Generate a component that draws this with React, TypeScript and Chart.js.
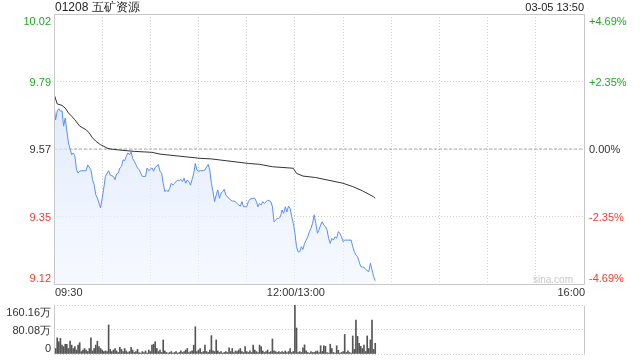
import React, { useEffect, useRef } from "react";
import { Chart, registerables } from "chart.js";

Chart.register(...registerables);

// ---------- data ----------
const stockTitle = "01208 五矿资源";
const stampText = "03-05 13:50";
const watermark = "sina.com";
const prevClose = 9.57;
const priceMin = 9.121;
const priceMax = 10.019;
const volMax = 160.16;
const totalMinutes = 330;
const gridMinutes = [0, 30, 60, 90, 120, 150, 180, 210, 240, 270, 300, 330];
const priceTickLabels = ["10.02", "9.79", "9.57", "9.35", "9.12"];
const pctTickLabels = ["+4.69%", "+2.35%", "0.00%", "-2.35%", "-4.69%"];
const volTickLabels = ["160.16万", "80.08万", "0"];
const timeLabels = ["09:30", "12:00/13:00", "16:00"];
const timeLabelMinutes = [0, 150, 330];

const priceMinutes = [
  0, 1, 2, 3, 4, 5, 6, 7, 8, 9, 11, 12, 13, 14, 15, 16, 20, 21, 23, 24, 25, 26, 27, 28, 29, 30,
  31, 32, 34, 35, 37, 38, 39, 40, 41, 42, 43, 44, 45, 46, 47, 48, 49, 50, 51, 52, 53, 55, 57, 58,
  59, 61, 62, 63, 65, 66, 67, 68, 69, 70, 71, 72, 73, 74, 75, 77, 78, 79, 80, 81, 82, 83, 84, 85,
  86, 87, 88, 89, 90, 91, 93, 94, 95, 96, 97, 98, 99, 100, 101, 102, 103, 104, 105, 106, 107, 108,
  110, 111, 112, 113, 114, 115, 116, 117, 118, 119, 120, 121, 122, 124, 125, 126, 127, 128, 129,
  130, 131, 133, 134, 135, 136, 137, 138, 139, 140, 141, 142, 143, 144, 145, 146, 147, 148, 149,
  150, 151, 152, 153, 154, 155, 156, 157, 158, 159, 160, 161, 162, 163, 164, 165, 166, 167, 168,
  169, 170, 171, 172, 173, 174, 175, 176, 177, 178, 179, 180, 181, 183, 185, 186, 187, 188, 189,
  190, 191, 192, 193, 194, 196, 197, 198, 199, 200,
];
const priceValues = [
  9.717, 9.667, 9.696, 9.704, 9.696, 9.697, 9.646, 9.673, 9.63, 9.59, 9.551, 9.557, 9.547, 9.501,
  9.49, 9.497, 9.498, 9.517, 9.501, 9.468, 9.451, 9.418, 9.407, 9.39, 9.374, 9.407,
  9.44, 9.479, 9.498, 9.483, 9.479, 9.468, 9.487, 9.49, 9.507, 9.512, 9.534, 9.531, 9.546, 9.557,
  9.551, 9.56, 9.538, 9.529, 9.518, 9.507, 9.501, 9.479, 9.479, 9.507,
  9.498, 9.507, 9.496, 9.509, 9.518, 9.496, 9.489, 9.456, 9.428, 9.434, 9.428, 9.439, 9.456, 9.45,
  9.456, 9.467, 9.465, 9.469, 9.461, 9.473, 9.456, 9.467, 9.461, 9.45,
  9.469, 9.489, 9.522, 9.5, 9.495, 9.498, 9.498, 9.5, 9.511, 9.519, 9.5, 9.456, 9.428, 9.395,
  9.417, 9.434, 9.406, 9.423, 9.428, 9.436, 9.417, 9.411,
  9.4, 9.397, 9.397, 9.394, 9.389, 9.384, 9.38, 9.395, 9.378, 9.378, 9.378, 9.395, 9.403, 9.406,
  9.406, 9.395, 9.378, 9.389, 9.384,
  9.395, 9.389, 9.4, 9.398, 9.395, 9.378, 9.328, 9.334, 9.339, 9.339, 9.345, 9.367, 9.356, 9.378,
  9.361, 9.38, 9.373, 9.345, 9.323,
  9.29, 9.245, 9.228, 9.228, 9.245, 9.236, 9.256, 9.267, 9.278, 9.295, 9.306, 9.323, 9.351, 9.323,
  9.29, 9.301, 9.317, 9.328, 9.317,
  9.312, 9.301, 9.273, 9.256, 9.273, 9.267, 9.278, 9.273, 9.295, 9.29, 9.278, 9.262, 9.267, 9.267,
  9.267, 9.245, 9.228, 9.217, 9.212,
  9.195, 9.179, 9.177, 9.177, 9.17, 9.162, 9.19, 9.168, 9.146, 9.132,
];

const avgMinutes = [
  0, 2, 5, 7, 9, 11, 13, 16, 18, 20, 22, 24, 26, 29, 31, 33, 35, 40, 50, 61, 66, 91, 98, 121, 128,
  136, 149, 151, 155, 163, 180, 186, 192, 199, 200,
];
const avgValues = [
  9.753, 9.72, 9.715, 9.706, 9.69, 9.679, 9.667, 9.646, 9.64, 9.634, 9.623, 9.607, 9.596, 9.584,
  9.579, 9.573, 9.57, 9.567, 9.562, 9.559, 9.553, 9.539, 9.537, 9.522, 9.519, 9.511, 9.506, 9.489,
  9.48, 9.475, 9.456, 9.445, 9.431, 9.411, 9.406,
];

// volume per minute (万), minute 0 .. 200
const volumes = [
  114, 18, 53, 40, 51, 29, 24, 32, 32, 18, 42, 29, 18, 24, 13, 29, 37, 8, 13, 18,
  13, 8, 18, 53, 10, 18, 29, 42, 24, 18, 13, 8, 10, 8, 95, 15, 8, 13, 18, 10,
  5, 22, 15, 8, 18, 10, 5, 8, 22, 13, 5, 8, 15, 5, 3, 8, 5, 10, 3, 13,
  8, 29, 32, 40, 18, 8, 13, 5, 46, 10, 5, 3, 5, 8, 3, 5, 8, 3, 5, 10,
  5, 8, 13, 18, 5, 8, 10, 29, 89, 8, 13, 18, 5, 8, 29, 8, 5, 13, 60, 10,
  8, 46, 10, 5, 8, 3, 5, 8, 5, 20, 8, 18, 5, 10, 8, 13, 18, 8, 5, 24,
  8, 5, 10, 5, 29, 13, 8, 5, 29, 24, 10, 5, 8, 13, 5, 8, 49, 10, 8, 5,
  8, 5, 8, 5, 10, 5, 8, 18, 5, 8, 160.16, 85, 5, 8, 5, 20, 30, 10, 5, 3,
  8, 5, 5, 8, 10, 5, 27, 8, 27, 25, 5, 3, 32, 18, 5, 3, 27, 12, 3, 5,
  8, 64, 5, 10, 5, 3, 59, 15, 111, 58, 35, 25, 18, 29, 8, 59, 18, 46, 111, 15,
  35,
];

// ---------- styles ----------
const FONT = "'Liberation Sans', Arial, sans-serif";
const UP = "#22a722";
const DOWN = "#ee3b2f";
const FLAT = "#333333";
const FRAME = "#c8c8c8";
const GRID = "#cfcfcf";
const priceLabelColors = [UP, UP, FLAT, DOWN, DOWN];

const priceTickValues = [0, 1, 2, 3, 4].map((k) => priceMax - (k * (priceMax - priceMin)) / 4);
const volTickValues = [volMax, volMax / 2, 0];

function drawFrame(ctx: CanvasRenderingContext2D, a: any, sides: string[]) {
  ctx.save();
  ctx.strokeStyle = FRAME;
  ctx.lineWidth = 1;
  ctx.beginPath();
  const l = Math.round(a.left) + 0.5;
  const r = Math.round(a.right) + 0.5;
  const t = Math.round(a.top) + 0.5;
  const b = Math.round(a.bottom) + 0.5;
  if (sides.includes("l")) { ctx.moveTo(l, t); ctx.lineTo(l, b); }
  if (sides.includes("r")) { ctx.moveTo(r, t); ctx.lineTo(r, b); }
  if (sides.includes("t")) { ctx.moveTo(l, t); ctx.lineTo(r, t); }
  if (sides.includes("b")) { ctx.moveTo(l, b); ctx.lineTo(r, b); }
  ctx.stroke();
  ctx.restore();
}

function drawLabelAt(ctx: CanvasRenderingContext2D, text: string, x: number, tickY: number, idx: number, last: number, align: CanvasTextAlign) {
  ctx.textAlign = align;
  if (idx === 0) {
    ctx.textBaseline = "alphabetic";
    ctx.fillText(text, x, tickY + 11);
  } else if (idx === last) {
    ctx.textBaseline = "alphabetic";
    ctx.fillText(text, x, tickY - 2);
  } else {
    ctx.textBaseline = "middle";
    ctx.fillText(text, x, tickY + 1);
  }
}

const pricePlugin = {
  id: "priceDecor",
  afterDraw(chart: any) {
    const { ctx, chartArea } = chart;
    const y = chart.scales.y;
    const x = chart.scales.x;
    drawFrame(ctx, chartArea, ["l", "r", "t", "b"]);
    ctx.save();
    ctx.font = `11px ${FONT}`;
    priceTickValues.forEach((v, i) => {
      const py = y.getPixelForValue(v);
      ctx.fillStyle = priceLabelColors[i];
      drawLabelAt(ctx, priceTickLabels[i], chartArea.left - 3, py, i, priceTickValues.length - 1, "right");
      drawLabelAt(ctx, pctTickLabels[i], chartArea.right + 5, py, i, priceTickValues.length - 1, "left");
    });
    // time labels
    ctx.fillStyle = "#333";
    ctx.textBaseline = "middle";
    timeLabels.forEach((t, i) => {
      const m = timeLabelMinutes[i];
      const px = x.getPixelForValue(m);
      ctx.textAlign = m === 0 ? "left" : m === totalMinutes ? "right" : "center";
      ctx.fillText(t, m === 0 ? px + 1 : px + 1, chartArea.bottom + 9);
    });
    // header
    ctx.font = `12px ${FONT}`;
    ctx.textAlign = "left";
    ctx.textBaseline = "middle";
    ctx.fillStyle = "#222";
    ctx.fillText(stockTitle, chartArea.left + 1, 8);
    ctx.font = `11px ${FONT}`;
    ctx.textAlign = "right";
    ctx.fillText(stampText, chartArea.right, 8);
    // watermark
    ctx.font = `10px ${FONT}`;
    ctx.fillStyle = "#c8c8c8";
    ctx.textAlign = "right";
    ctx.textBaseline = "alphabetic";
    ctx.fillText(watermark, chartArea.right - 11, chartArea.bottom - 1);
    ctx.restore();
  },
};

const volPlugin = {
  id: "volDecor",
  afterDraw(chart: any) {
    const { ctx, chartArea } = chart;
    const y = chart.scales.y;
    drawFrame(ctx, chartArea, ["l", "r"]);
    ctx.save();
    ctx.font = `11px ${FONT}`;
    ctx.fillStyle = "#333";
    volTickValues.forEach((v, i) => {
      const py = y.getPixelForValue(v);
      drawLabelAt(ctx, volTickLabels[i], chartArea.left - 3, py, i, volTickValues.length - 1, "right");
    });
    ctx.restore();
  },
};

export default function App() {
  const priceRef = useRef<HTMLCanvasElement | null>(null);
  const volRef = useRef<HTMLCanvasElement | null>(null);

  useEffect(() => {
    if (!priceRef.current || !volRef.current) return;

    const priceChart = new Chart(priceRef.current, {
      type: "line",
      data: {
        datasets: [
          {
            label: "price",
            data: priceMinutes.map((m, i) => ({ x: m, y: priceValues[i] })),
            borderColor: "#5a8ef0",
            borderWidth: 1,
            pointRadius: 0,
            tension: 0,
            fill: "start",
            backgroundColor: (c: any) => {
              const area = c.chart.chartArea;
              if (!area) return "rgba(220,232,252,0.6)";
              const g = c.chart.ctx.createLinearGradient(0, area.top, 0, area.bottom);
              g.addColorStop(0, "rgba(205,222,250,0.85)");
              g.addColorStop(1, "rgba(240,245,255,0.6)");
              return g;
            },
            order: 2,
          },
          {
            label: "avg",
            data: avgMinutes.map((m, i) => ({ x: m, y: avgValues[i] })),
            borderColor: "#333",
            borderWidth: 1,
            pointRadius: 0,
            tension: 0,
            fill: false,
            order: 1,
          },
          {
            label: "prevClose",
            data: [
              { x: 0, y: prevClose },
              { x: totalMinutes, y: prevClose },
            ],
            borderColor: "#aaaaaa",
            borderWidth: 1,
            borderDash: [3, 2],
            pointRadius: 0,
            fill: false,
            order: 3,
          },
        ],
      },
      options: {
        responsive: false,
        animation: false,
        devicePixelRatio: 1,
        layout: { padding: { top: 14, left: 0, right: 0, bottom: 0 } },
        plugins: { legend: { display: false }, tooltip: { enabled: false }, title: { display: false } },
        scales: {
          x: {
            type: "linear",
            min: 0,
            max: totalMinutes,
            afterBuildTicks: (s: any) => {
              s.ticks = gridMinutes.map((v) => ({ value: v }));
            },
            ticks: { display: false },
            grid: { color: GRID, drawTicks: false },
            border: { display: false, dash: [1, 2] },
            afterFit: (s: any) => {
              s.height = 16;
            },
          },
          y: {
            position: "left",
            min: priceMin,
            max: priceMax,
            afterBuildTicks: (s: any) => {
              s.ticks = priceTickValues.map((v) => ({ value: v }));
            },
            ticks: { display: false },
            grid: { color: GRID, drawTicks: false },
            border: { display: false, dash: [1, 2] },
            afterFit: (s: any) => {
              s.width = 54;
            },
          },
          y2: {
            position: "right",
            min: priceMin,
            max: priceMax,
            ticks: { display: false },
            grid: { display: false, drawTicks: false },
            border: { display: false },
            afterFit: (s: any) => {
              s.width = 56;
            },
          },
        },
      } as any,
      plugins: [pricePlugin],
    });

    const volChart = new Chart(volRef.current, {
      type: "bar",
      data: {
        datasets: [
          {
            label: "volume",
            data: volumes.map((v, i) => ({ x: i, y: v })),
            backgroundColor: "#555555",
            borderWidth: 0,
            barThickness: 1,
          },
        ],
      },
      options: {
        responsive: false,
        animation: false,
        devicePixelRatio: 1,
        layout: { padding: { top: 5, left: 0, right: 0, bottom: 0 } },
        plugins: { legend: { display: false }, tooltip: { enabled: false } },
        scales: {
          x: {
            type: "linear",
            min: 0,
            max: totalMinutes,
            offset: false,
            ticks: { display: false },
            grid: { display: false, drawTicks: false },
            border: { display: false },
            afterFit: (s: any) => {
              s.height = 6;
            },
          },
          y: {
            position: "left",
            min: 0,
            max: volMax,
            afterBuildTicks: (s: any) => {
              s.ticks = volTickValues.map((v) => ({ value: v }));
            },
            ticks: { display: false },
            grid: { color: GRID, drawTicks: false },
            border: { display: false, dash: [1, 2] },
            afterFit: (s: any) => {
              s.width = 54;
            },
          },
          y2: {
            position: "right",
            min: 0,
            max: volMax,
            ticks: { display: false },
            grid: { display: false, drawTicks: false },
            border: { display: false },
            afterFit: (s: any) => {
              s.width = 56;
            },
          },
        },
      } as any,
      plugins: [volPlugin],
    });

    return () => {
      priceChart.destroy();
      volChart.destroy();
    };
  }, []);

  return (
    <div style={{ position: "fixed", left: 0, top: 0, width: 640, height: 360, background: "#fff" }}>
      <canvas
        ref={priceRef}
        width={640}
        height={300}
        style={{ position: "absolute", left: 0, top: 0, width: 640, height: 300 }}
      />
      <canvas
        ref={volRef}
        width={640}
        height={60}
        style={{ position: "absolute", left: 0, top: 300, width: 640, height: 60 }}
      />
    </div>
  );
}
